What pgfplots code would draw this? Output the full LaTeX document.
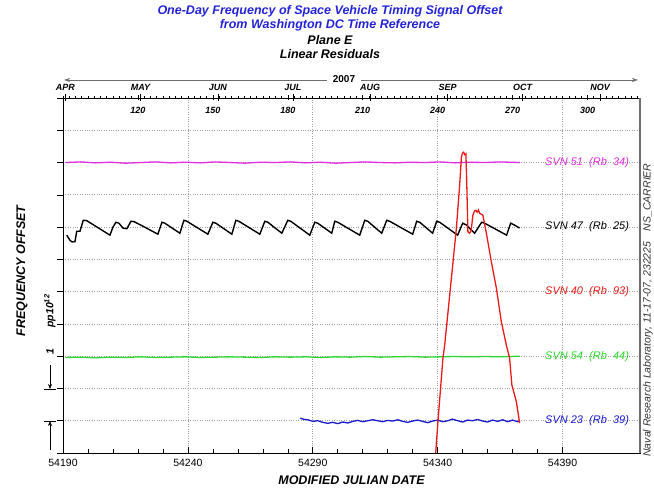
\documentclass[border=0pt]{standalone}
\usepackage{fontspec}
\setmainfont{Liberation Sans}
\usepackage{pgfplots}
\pgfplotsset{compat=1.18}
\usetikzlibrary{arrows.meta}

\definecolor{ttlblue}{RGB}{35,35,215}
\definecolor{svnmag}{RGB}{225,45,225}
\definecolor{svnred}{RGB}{235,25,25}
\definecolor{svngreen}{RGB}{45,215,45}
\definecolor{svnblue}{RGB}{25,25,205}
\definecolor{rulegray}{RGB}{110,110,110}

\newcommand{\lblfont}{\fontsize{11}{13}\selectfont\itshape}
\newcommand{\ttlfont}{\fontsize{12.5}{14}\selectfont\bfseries\itshape}

% SVN 51 (Rb 34)
\pgfplotstableread{
mjd off
54191 9.00
54197 9.02
54203 8.99
54209 9.01
54215 8.98
54221 9.00
54227 9.02
54233 8.99
54239 9.01
54245 8.99
54251 9.02
54257 9.00
54263 8.98
54269 9.01
54275 9.00
54281 9.02
54287 8.99
54293 9.01
54299 8.98
54305 9.00
54311 9.02
54317 9.00
54323 8.99
54329 9.01
54335 9.00
54341 9.02
54347 8.99
54353 9.01
54359 9.00
54365 9.02
54373 9.00
}\svnA

% SVN 47 (Rb 25)
\pgfplotstableread{
mjd off
54191.5 6.75
54192.8 6.59
54193.6 6.54
54194.8 6.55
54195.5 6.87
54196.8 6.87
54198.1 7.21
54199.5 7.20
54208.8 6.75
54210.0 7.00
54211.2 7.15
54212.4 7.12
54214.0 6.97
54215.6 6.95
54217.2 7.18
54218.4 7.17
54221.2 7.06
54228.0 6.78
54229.6 7.15
54230.8 7.12
54236.8 6.81
54238.4 7.21
54239.6 7.18
54248.0 6.78
54250.0 7.15
54251.2 7.12
54257.6 6.78
54259.2 7.21
54260.4 7.18
54268.8 6.78
54270.8 7.18
54272.0 7.15
54277.6 6.81
54280.0 7.21
54281.2 7.18
54288.8 6.75
54290.8 7.15
54292.0 7.12
54297.6 6.81
54298.8 7.18
54300.0 7.15
54308.8 6.75
54310.8 7.21
54312.0 7.18
54317.6 6.81
54319.6 7.21
54320.8 7.18
54330.0 6.78
54331.6 7.18
54332.8 7.15
54338.0 6.81
54339.6 7.18
54340.8 7.15
54348.0 6.75
54350.0 7.12
54351.6 7.06
54354.8 6.81
54357.6 7.15
54358.8 7.12
54367.6 6.75
54369.2 7.12
54370.8 7.06
54372.8 6.97
}\svnB

% SVN 40 (Rb 93)
\pgfplotstableread{
mjd off
54339.2 0.00
54340.1 0.97
54342.1 2.93
54342.8 3.34
54345.5 5.42
54347.5 6.97
54348.8 8.30
54349.5 9.17
54349.9 9.29
54350.4 9.32
54350.9 9.24
54351.3 9.27
54351.6 8.51
54352.1 6.85
54352.8 6.81
54353.4 6.90
54354.1 7.37
54354.8 7.50
54355.3 7.52
54355.8 7.46
54356.3 7.53
54356.8 7.43
54358.1 7.37
54359.5 6.81
54361.5 5.92
54363.5 5.11
54365.5 4.06
54367.5 3.34
54368.8 2.94
54369.7 2.11
54371.5 1.59
54372.8 0.93
}\svnC

% SVN 54 (Rb 44)
\pgfplotstableread{
mjd off
54191 2.96
54197 2.97
54203 2.95
54209 2.97
54215 2.96
54221 2.98
54227 2.96
54233 2.97
54239 2.98
54245 2.96
54251 2.97
54257 2.98
54263 2.97
54269 2.96
54275 2.98
54281 2.97
54287 2.98
54293 2.96
54299 2.98
54305 2.97
54311 2.99
54317 2.97
54323 2.98
54329 2.99
54335 2.97
54341 2.98
54347 2.99
54353 2.98
54359 2.99
54365 2.98
54373 3.00
}\svnD

% SVN 23 (Rb 39)
\pgfplotstableread{
mjd off
54285.0 1.08
54286.5 1.04
54288.0 1.03
54290.0 0.98
54292.0 1.00
54294.0 0.95
54296.0 0.92
54298.0 0.95
54300.0 0.91
54302.0 0.96
54304.0 0.93
54306.0 0.98
54308.0 1.01
54310.0 0.97
54312.0 1.00
54314.0 1.03
54316.0 1.00
54318.0 0.97
54320.0 1.01
54322.0 0.99
54324.0 1.03
54326.0 0.98
54328.0 0.95
54330.0 0.99
54332.0 1.02
54334.0 0.98
54336.0 0.94
54338.0 0.99
54340.0 1.02
54342.0 0.97
54344.0 1.00
54346.0 1.05
54348.0 1.00
54350.0 0.96
54352.0 1.02
54354.0 1.00
54356.0 1.04
54358.0 0.99
54360.0 0.96
54362.0 1.02
54364.0 0.98
54366.0 1.03
54368.0 0.97
54370.0 1.02
54372.0 0.97
54373.0 1.00
}\svnE

\begin{document}
\begin{tikzpicture}[x=1pt,y=1pt]
\path[use as bounding box] (0,0) rectangle (654,493);

% titles
\node[font=\ttlfont, text=ttlblue] at (330,482) {One-Day Frequency of Space Vehicle Timing Signal Offset};
\node[font=\ttlfont, text=ttlblue] at (330,467.5) {from Washington DC Time Reference};
\node[font=\ttlfont] at (330,453) {Plane E};
\node[font=\ttlfont] at (330,439) {Linear Residuals};

% calendar year bar
\draw[rulegray, line width=0.6pt, -{Stealth[length=6pt,width=4pt]}] (327,413) -- (64,413);
\draw[rulegray, line width=0.6pt, -{Stealth[length=6pt,width=4pt]}] (361,413) -- (638,413);
\node[font=\fontsize{10}{12}\selectfont\bfseries] at (344,413.5) {2007};

% day-of-year / month scale along the top
\begin{axis}[
  at={(63pt,40pt)}, anchor=south west, scale only axis,
  width=577pt, height=355pt,
  xmin=90, xmax=321, ymin=0, ymax=11,
  axis x line*=top, axis y line=none,
  axis line style={black, line width=0.9pt},
  xtick={91,121,152,182,213,244,274,305},
  xticklabels={APR,MAY,JUN,JUL,AUG,SEP,OCT,NOV},
  xtick align=center, major tick length=7pt,
  minor xtick={90,92.5,...,320}, minor tick length=3pt,
  tick style={black, line width=0.6pt},
  x tick label style={font=\fontsize{9}{10}\selectfont\bfseries\itshape},
  extra x ticks={120,150,...,300},
  extra x tick style={major tick length=5pt,
    tick label style={font=\fontsize{7.5}{9}\selectfont\bfseries, anchor=north, yshift=-8pt}},
  /pgf/number format/assume math mode=true,
]
\addplot[draw=none] coordinates {(100,1)};
\end{axis}

% main panel
\begin{axis}[
  at={(63pt,40pt)}, anchor=south west, scale only axis,
  width=577pt, height=355pt,
  xmin=54190, xmax=54421, ymin=0, ymax=11,
  xtick={54190,54240,54290,54340,54390},
  xticklabels={54190,54240,54290,54340,54390},
  scaled x ticks=false, minor x tick num=4,
  ytick={0,...,11}, yticklabels={},
  xtick pos=left, ytick pos=left,
  xtick align=inside, ytick align=outside,
  major tick length=6pt, minor tick length=4pt,
  grid=major, major grid style={gray!75, dotted, line width=0.7pt},
  axis line style={black, line width=0.9pt},
  tick style={black, line width=0.6pt},
  x tick label style={font=\fontsize{10.5}{12}\selectfont, yshift=-3pt},
  xlabel={MODIFIED JULIAN DATE},
  xlabel style={font=\fontsize{12.5}{14}\selectfont\bfseries\itshape, yshift=-2pt},
  clip=false,
]
\addplot[svnmag, line width=1.3pt] table[x=mjd, y=off] {\svnA};
\addplot[black, line width=1.4pt] table[x=mjd, y=off] {\svnB};
\addplot[svngreen, line width=1.3pt] table[x=mjd, y=off] {\svnD};
\addplot[svnblue, line width=1.3pt] table[x=mjd, y=off] {\svnE};
\addplot[svnred, line width=1.3pt] table[x=mjd, y=off] {\svnC};

\node[anchor=east, text=svnmag, font=\lblfont] at (axis cs:54418,9) {SVN 51~~(Rb~~34)};
\node[anchor=east, text=black, font=\lblfont] at (axis cs:54418,7) {SVN 47~~(Rb~~25)};
\node[anchor=east, text=svnred, font=\lblfont] at (axis cs:54418,5) {SVN 40~~(Rb~~93)};
\node[anchor=east, text=svngreen, font=\lblfont] at (axis cs:54418,3) {SVN 54~~(Rb~~44)};
\node[anchor=east, text=svnblue, font=\lblfont] at (axis cs:54418,1) {SVN 23~~(Rb~~39)};
\end{axis}

% right border
\draw[rulegray, line width=1.2pt] (640,40) -- (640,395);

% vertical axis annotation and scale marker
\node[rotate=90, font=\fontsize{12.5}{14}\selectfont\bfseries\itshape] at (22,222) {FREQUENCY OFFSET};
\node[rotate=90, font=\fontsize{10.5}{12}\selectfont\bfseries\itshape] at (50,141) {1};
\node[rotate=90, font=\fontsize{10.5}{12}\selectfont\bfseries\itshape] at (50,182) {pp10\textsuperscript{12}};
\draw[black, line width=0.6pt, -{Stealth[length=5pt,width=4pt]}] (50,128) -- (50,104);
\draw[black, line width=0.6pt] (44,104) -- (56,104);
\draw[black, line width=0.6pt, -{Stealth[length=5pt,width=4pt]}] (50,43) -- (50,72);
\draw[black, line width=0.6pt] (44,72) -- (56,72);

% credit line
\node[rotate=90, font=\fontsize{10.5}{12}\selectfont\itshape, text=black!80] at (648,183) {Naval Research Laboratory, 11-17-07, 232225\quad NS\_CARRIER};
\end{tikzpicture}
\end{document}
